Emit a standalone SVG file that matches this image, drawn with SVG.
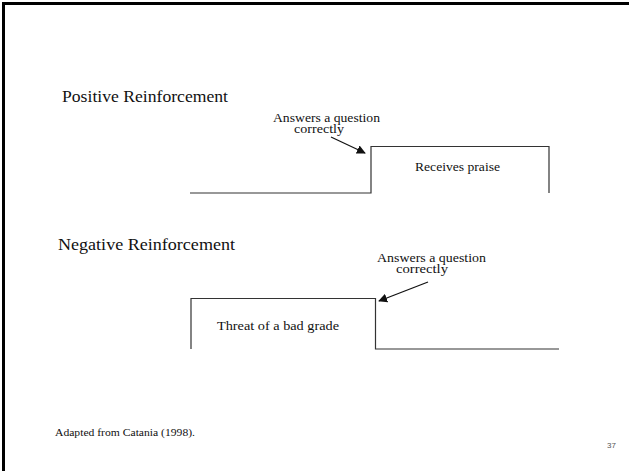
<svg xmlns="http://www.w3.org/2000/svg" width="629" height="471" viewBox="0 0 629 471">
<style>
.serif{font-family:"Liberation Serif","Times New Roman",serif;fill:#111}
.step{fill:none;stroke:#333;stroke-width:1.2}
.arr{stroke:#111;stroke-width:1.3;marker-end:url(#ah)}
</style>
<defs>
<marker id="ah" viewBox="0 0 10 10" refX="9" refY="5" markerWidth="9" markerHeight="9" markerUnits="userSpaceOnUse" orient="auto">
<path d="M0,0 L10,5 L0,10 z" fill="#111"/>
</marker>
</defs>
<rect width="629" height="471" fill="#fff"/>
<path d="M3.5,471 V3.5 H629" fill="none" stroke="#000" stroke-width="3"/>
<g id="title-positive"><text class="serif" x="62" y="102" font-size="16" textLength="166" lengthAdjust="spacingAndGlyphs">Positive Reinforcement</text></g>
<g id="positive-step">
<path class="step" d="M190,193 H371 V146.5 H549 V193"/>
<text class="serif" x="415" y="171" font-size="11.5" textLength="85" lengthAdjust="spacingAndGlyphs">Receives praise</text>
</g>
<g id="positive-label">
<text class="serif" x="273" y="122" font-size="11.5" textLength="107" lengthAdjust="spacingAndGlyphs">Answers a question</text>
<text class="serif" x="294" y="133" font-size="11.5" textLength="50" lengthAdjust="spacingAndGlyphs">correctly</text>
</g>
<g id="title-negative"><text class="serif" x="58" y="250" font-size="16" textLength="177" lengthAdjust="spacingAndGlyphs">Negative Reinforcement</text></g>
<g id="negative-step">
<path class="step" d="M191,349 V298.5 H375.5 V349 H559"/>
<text class="serif" x="217" y="330" font-size="11.5" textLength="122" lengthAdjust="spacingAndGlyphs">Threat of a bad grade</text>
</g>
<g id="negative-label">
<text class="serif" x="377" y="262" font-size="11.5" textLength="109" lengthAdjust="spacingAndGlyphs">Answers a question</text>
<text class="serif" x="396" y="273" font-size="11.5" textLength="52" lengthAdjust="spacingAndGlyphs">correctly</text>
</g>
<g id="connectors">
<line class="arr" x1="331" y1="137" x2="365" y2="153"/>
<line class="arr" x1="428" y1="282" x2="379" y2="301"/>
</g>
<g id="footer">
<text class="serif" x="55" y="436" font-size="10" textLength="140" lengthAdjust="spacingAndGlyphs">Adapted from Catania (1998).</text>
<text x="607" y="448" font-size="8" fill="#555" font-family="Liberation Sans,Arial,sans-serif">37</text>
</g>
</svg>
